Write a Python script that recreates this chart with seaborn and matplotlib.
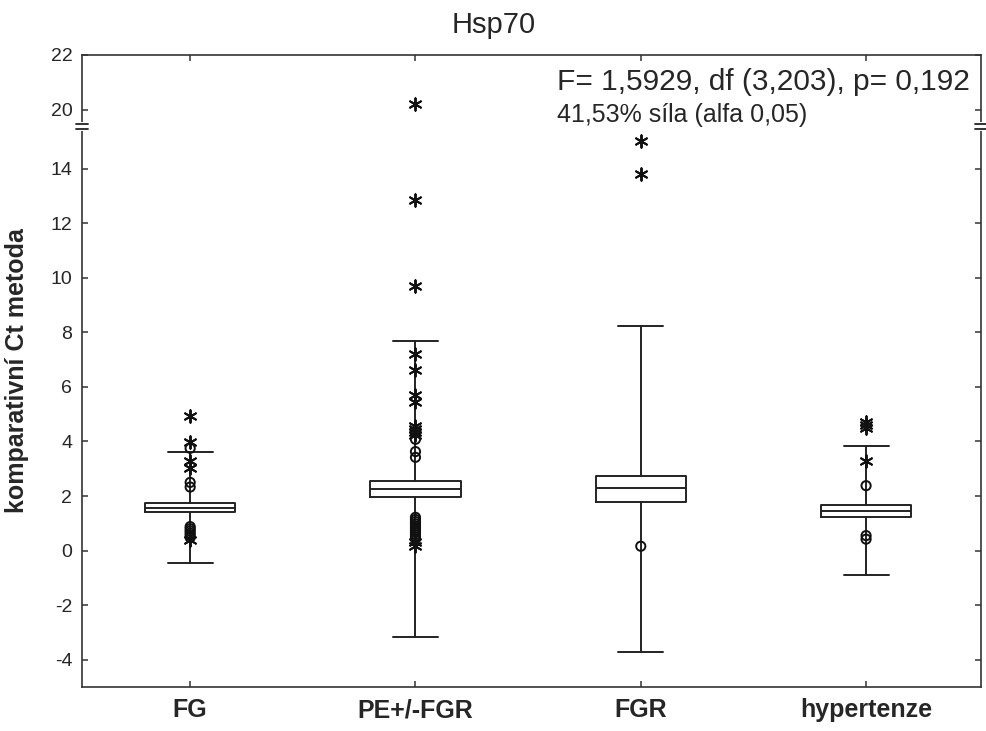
import numpy as np
import pandas as pd
import matplotlib
matplotlib.use("Agg")
import matplotlib.pyplot as plt
from matplotlib.transforms import blended_transform_factory
import seaborn as sns

groups = ["FG", "PE+/-FGR", "FGR", "hypertenze"]

# box statistics
whisker_low = [-0.46, -3.17, -3.72, -0.91]
q1 = [1.42, 1.96, 1.79, 1.24]
median = [1.57, 2.26, 2.29, 1.45]
q3 = [1.75, 2.57, 2.74, 1.67]
whisker_high = [3.63, 7.68, 8.24, 3.84]

# outliers (circles) and extremes (asterisks)
circles_fg = [3.75, 2.50, 2.33, 0.88, 0.80, 0.72, 0.64, 0.56, 0.48]
extremes_fg = [4.94, 3.97, 3.28, 3.04, 0.38]
circles_pe = [4.08, 3.63, 3.42, 1.22, 1.14, 1.06, 0.98, 0.90, 0.82, 0.74,
              0.66, 0.58, 0.50, 0.42]
extremes_pe = [20.2, 12.87, 9.69, 7.20, 6.62, 5.70, 5.46, 4.55, 4.45,
               4.35, 4.25, 0.32, 0.16]
circles_fgr = [0.16]
extremes_fgr = [15.0, 13.8]
circles_hyp = [2.38, 0.55, 0.42]
extremes_hyp = [4.72, 4.60, 4.48, 3.29]

y_ticks = [-4, -2, 0, 2, 4, 6, 8, 10, 12, 14, 20, 22]

# broken y axis: values between B1 and B2 are cut out
B1, B2 = 15.55, 19.38
GAP = B2 - B1


def forward(y):
    y = np.asarray(y, dtype=float)
    return np.where(y >= B2, y - GAP, np.minimum(y, B1))


def inverse(u):
    u = np.asarray(u, dtype=float)
    return np.where(u > B1, u + GAP, u)


sns.set_style("ticks")
plt.rcParams["font.family"] = ["Liberation Sans", "DejaVu Sans"]

fig = plt.figure(figsize=(9.87, 7.31), dpi=100)
ax = fig.add_axes([0.0831, 0.0602, 0.9108, 0.8646])
ax.set_yscale("function", functions=(forward, inverse))

pos = {g: i for i, g in enumerate(groups)}
stats = []
for i, g in enumerate(groups):
    stats.append(dict(label=g, whislo=whisker_low[i], q1=q1[i], med=median[i],
                      q3=q3[i], whishi=whisker_high[i], fliers=[]))

line = dict(color="#222222", linewidth=1.4)
ax.bxp(stats, positions=range(len(groups)), widths=0.40, capwidths=0.20,
       showfliers=False, boxprops=line, medianprops=line, whiskerprops=line,
       capprops=line, manage_ticks=False)

circ = pd.DataFrame({
    "group": ["FG"] * len(circles_fg) + ["PE+/-FGR"] * len(circles_pe)
    + ["FGR"] * len(circles_fgr) + ["hypertenze"] * len(circles_hyp),
    "value": circles_fg + circles_pe + circles_fgr + circles_hyp,
})
extr = pd.DataFrame({
    "group": ["FG"] * len(extremes_fg) + ["PE+/-FGR"] * len(extremes_pe)
    + ["FGR"] * len(extremes_fgr) + ["hypertenze"] * len(extremes_hyp),
    "value": extremes_fg + extremes_pe + extremes_fgr + extremes_hyp,
})
circ["pos"] = circ["group"].map(pos)
extr["pos"] = extr["group"].map(pos)

sns.scatterplot(data=circ, x="pos", y="value", marker="o", s=44,
                facecolors="none", edgecolor="#111111", linewidth=1.4,
                ax=ax, legend=False, zorder=4)
sns.scatterplot(data=extr, x="pos", y="value", marker=(6, 2, 0), s=80,
                color="#111111", linewidth=1.4, ax=ax, legend=False, zorder=4)

ax.set_xlim(-0.48, 3.51)
ax.set_ylim(-5, 22)
ax.set_yticks(y_ticks)
ax.set_yticklabels([str(t) for t in y_ticks])
ax.set_xticks(range(len(groups)))
ax.set_xticklabels(groups, fontsize=18, fontweight="bold")
ax.set_xlabel("")
ax.set_ylabel("komparativní Ct metoda", fontsize=18, fontweight="bold")
ax.yaxis.set_label_coords(-0.059, 0.5)

ax.tick_params(direction="in", top=True, right=True, length=4, width=1.1,
               color="#333333")
ax.tick_params(axis="y", labelsize=14, pad=7)
ax.tick_params(axis="x", pad=8)
for sp in ax.spines.values():
    sp.set_visible(True)
    sp.set_linewidth(1.2)
    sp.set_color("#333333")

# break marks on both vertical spines
trans = blended_transform_factory(ax.transAxes, ax.transData)
for xa in (0, 1):
    ax.plot([xa, xa], [B1 - 0.1, B2 + 0.1], color="white", lw=3,
            transform=trans, clip_on=False, zorder=5)
    for yb in (B1 - 0.1, B2 + 0.1):
        ax.plot([xa - 0.007, xa + 0.007], [yb, yb], color="#222222", lw=1.3,
                transform=trans, clip_on=False, zorder=6)

fig.text(0.5, 0.955, "Hsp70", ha="center", va="baseline", fontsize=21)
fig.text(0.5643, 0.877, "F= 1,5929, df (3,203), p= 0,192", ha="left",
         va="baseline", fontsize=21.5)
fig.text(0.5643, 0.833, "41,53% síla (alfa 0,05)", ha="left",
         va="baseline", fontsize=18)

fig.savefig("out.png", dpi=100)
